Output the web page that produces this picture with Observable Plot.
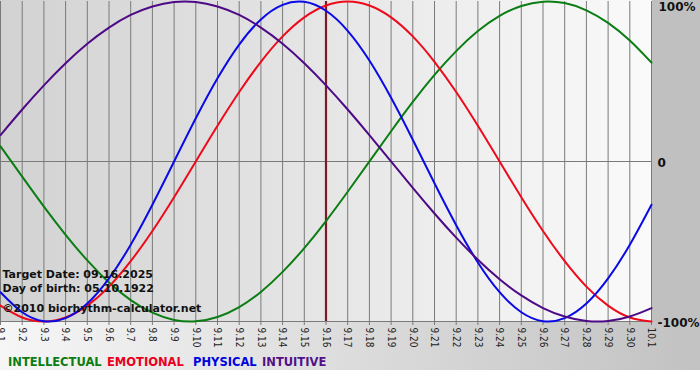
<!DOCTYPE html>
<html>
<head>
<meta charset="utf-8">
<script src="https://cdn.jsdelivr.net/npm/d3@7"></script>
<script src="https://cdn.jsdelivr.net/npm/@observablehq/plot@0.6"></script>
<style>
  html, body { margin: 0; padding: 0; background: #fff; }
  #chart {
    position: relative; width: 700px; height: 380px; overflow: hidden;
    background:
      linear-gradient(to right, #d2d2d2, #fafafa) 0 0 / 652px 322px no-repeat,
      linear-gradient(#c0c0c0, #c0c0c0) 652px 0 / 48px 322px no-repeat,
      linear-gradient(to right, #f6f6f6, #c2c2c2) 0 322px / 700px 48px no-repeat,
      #ffffff;
  }
  #chart svg { display: block; background: transparent; }
  #legend { position: absolute; left: 0; top: 355px; width: 700px; height: 16px;
    font: bold 11.5px "DejaVu Sans", sans-serif; }
  #legend span { position: absolute; top: 0; white-space: nowrap; }
</style>
</head>
<body>
<div id="chart"></div>
<script>
// Day labels along the bottom axis (Sept 1 .. Oct 1)
const dates = ["9.1","9.2","9.3","9.4","9.5","9.6","9.7","9.8","9.9","9.10",
  "9.11","9.12","9.13","9.14","9.15","9.16","9.17","9.18","9.19","9.20",
  "9.21","9.22","9.23","9.24","9.25","9.26","9.27","9.28","9.29","9.30","10.1"];

// Values (fraction of 100%), one per day
const intellectual = [0.095,-0.095,-0.282,-0.458,-0.618,-0.756,-0.866,-0.945,-0.990,-0.999,
  -0.972,-0.910,-0.815,-0.690,-0.541,-0.372,-0.189,0.000,0.189,0.372,
  0.541,0.690,0.815,0.910,0.972,0.999,0.990,0.945,0.866,0.756,0.618];
const emotional = [-0.901,-0.975,-1.000,-0.975,-0.901,-0.782,-0.623,-0.434,-0.223,0.000,
  0.223,0.434,0.623,0.782,0.901,0.975,1.000,0.975,0.901,0.782,
  0.623,0.434,0.223,0.000,-0.223,-0.434,-0.623,-0.782,-0.901,-0.975,-1.000];
const physical = [-0.817,-0.942,-0.998,-0.979,-0.888,-0.731,-0.520,-0.270,0.000,0.270,
  0.520,0.731,0.888,0.979,0.998,0.942,0.817,0.631,0.398,0.136,
  -0.136,-0.398,-0.631,-0.817,-0.942,-0.998,-0.979,-0.888,-0.731,-0.520,-0.270];
const intuitive = [0.165,0.325,0.476,0.614,0.736,0.837,0.916,0.969,0.997,0.997,
  0.969,0.916,0.837,0.736,0.614,0.476,0.325,0.165,0.000,-0.165,
  -0.325,-0.476,-0.614,-0.736,-0.837,-0.916,-0.969,-0.997,-0.997,-0.969,-0.916];

const seriesNames = ["INTELLECTUAL","EMOTIONAL","PHYSICAL","INTUITIVE"];
const seriesColors = ["#0b7d12","#ee0a1a","#0a0ae6","#4e0a86"];
const legendColors = ["#0b7d12","#e8001c","#0000e0","#52108a"];

const targetDate = "9.16";
const targetText = "Target Date: 09.16.2025";
const birthText = "Day of birth: 05.10.1922";
const copyrightText = "\u00a92010 biorhythm-calculator.net";

const rightTicks = [1, 0, -1];
const rightLabels = ["100%", "0", "-100%"];

// Build tidy rows
const allSeries = [intellectual, emotional, physical, intuitive];
const rows = [];
allSeries.forEach((vals, s) => vals.forEach((v, i) => rows.push({day: i, value: v, series: seriesNames[s]})));
const idx = dates.map((d, i) => i);
const targetIdx = dates.indexOf(targetDate);

const fontMain = "'DejaVu Sans', Verdana, sans-serif";

const chart = Plot.plot({
  width: 700,
  height: 345,
  marginLeft: 0,
  marginRight: 49,
  marginTop: 1,
  marginBottom: 24,
  x: {domain: [0, dates.length - 1], axis: null},
  y: {domain: [-1, 1], axis: null},
  style: {background: "transparent", overflow: "visible"},
  marks: [
    Plot.ruleX(idx, {stroke: "#7a7a7a", strokeWidth: 1}),
    Plot.ruleY([0, -1], {stroke: "#7a7a7a", strokeWidth: 1}),
    Plot.axisX({
      ticks: idx,
      tickFormat: i => dates[i],
      tickRotate: 90,
      tickSize: 4,
      tickPadding: 2,
      label: null,
      stroke: "#7a7a7a",
      fill: "#222",
      fontSize: 10,
      fontFamily: "'Liberation Sans Narrow', 'DejaVu Sans Condensed', sans-serif"
    }),
    Plot.ruleX([targetIdx], {stroke: "#7a1c26", strokeWidth: 2.2}),
    ...seriesNames.map((name, s) => Plot.line(rows.filter(r => r.series === name), {
      x: "day", y: "value", stroke: seriesColors[s], strokeWidth: 2, curve: "natural"
    })),
    Plot.text([rightLabels[0]], {
      x: dates.length - 1, y: rightTicks[0], text: d => d, textAnchor: "start", dx: 7, dy: 6,
      fontSize: 12, fontWeight: "bold", fontFamily: fontMain, fill: "#111"
    }),
    Plot.text(rightLabels.slice(1), {
      x: dates.length - 1, y: (d, i) => rightTicks[i + 1], text: d => d, textAnchor: "start",
      dx: 6, dy: 2,
      fontSize: 12, fontWeight: "bold", fontFamily: fontMain, fill: "#111"
    }),
    Plot.text([targetText + "\n" + birthText], {
      frameAnchor: "bottom-left", dx: 2, dy: -30, lineAnchor: "bottom", lineHeight: 1.25,
      fontSize: 11, fontWeight: "bold", fontFamily: fontMain, fill: "#111"
    }),
    Plot.text([copyrightText], {
      frameAnchor: "bottom-left", dx: 2, dy: -10, lineAnchor: "bottom",
      fontSize: 11, fontWeight: "bold", fontFamily: fontMain, fill: "#111"
    })
  ]
});

const container = document.getElementById("chart");
container.appendChild(chart);

const legend = document.createElement("div");
legend.id = "legend";
const legendLeft = [8, 107, 193, 262];
seriesNames.forEach((name, s) => {
  const sp = document.createElement("span");
  sp.textContent = name;
  sp.style.color = legendColors[s];
  sp.style.left = legendLeft[s] + "px";
  legend.appendChild(sp);
});
container.appendChild(legend);
</script>
</body>
</html>
